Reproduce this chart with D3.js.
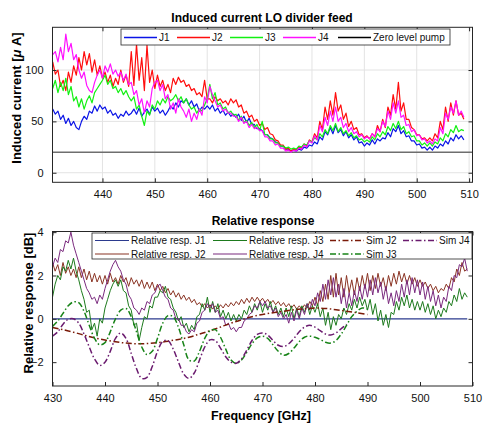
<!DOCTYPE html>
<html><head><meta charset="utf-8">
<script src="https://cdn.jsdelivr.net/npm/d3@7"></script>
<style>body{margin:0;background:#fff}svg{display:block;font-family:"Liberation Sans",Arial,Helvetica,sans-serif}</style>
</head><body><svg id="c" width="483" height="424"></svg>
<script>
// ---------- DATA ----------
// Top panel: induced current [uA], sampled every 0.5 GHz from 430.5 GHz
const topFreqStart = 430.5, freqStep = 0.5;
const currJ1 = [62,57,60,52,56,48,53,46,50,44, 42,50,55,52,60,58,65,60,66,62, 64,58,61,56,58,53,57,55,60,56,
  58,62,57,63,55,59,62,57,64,60, 63,58,61,56,60,65,62,68,64,70, 68,72,66,70,64,67,60,64,62,65,
  62,66,60,63,58,61,56,59,55,57, 54,57,51,55,49,53,47,47,43,43, 41,37,37,34,33,30,29,26,26,23,
  23,21,22,21,23,22,25,24,27,26, 30,28,35,32,40,37,44,38,46,39, 42,36,40,34,37,32,35,29,30,26,
  29,27,32,28,33,31,34,33,39,35, 43,40,46,38,41,35,36,31,31,27, 28,24,25,22,25,22,26,24,28,26,
  31,28,34,31,37,33,36,32];
const currJ2 = [108,96,100,84,90,80,98,88,104,95, 112,100,118,105,116,98,110,95,104,92, 98,88,95,84,92,86,100,88,95,84,
  118,85,125,90,112,80,124,88,100,82, 95,84,90,80,86,78,92,86,93,88, 90,84,86,80,82,76,78,74,90,72,
  72,68,74,70,72,68,70,66,72,68, 71,64,66,58,60,54,56,50,52,46, 48,42,44,38,37,32,31,27,27,23,
  24,21,23,22,25,24,28,26,32,30, 38,34,50,42,64,52,70,56,78,60, 66,52,58,45,50,42,44,37,38,34,
  36,33,38,35,46,40,52,44,64,56, 76,62,88,60,68,52,52,44,42,37, 37,33,34,31,34,31,38,34,50,42,
  64,50,68,56,70,56,58,52];
const currJ3 = [82,90,78,88,80,92,76,84,70,74, 64,72,62,70,75,68,78,82,86,90, 95,86,90,82,84,78,82,76,80,74,
  70,74,62,66,55,46,60,56,66,62, 70,66,72,68,74,70,72,76,70,74, 68,72,66,62,64,58,62,60,66,72,
  86,72,78,66,68,62,64,58,60,56, 57,51,55,49,51,46,49,44,47,41, 50,37,37,33,33,29,29,26,26,24,
  25,23,24,23,26,25,28,27,31,30, 34,32,38,35,42,38,46,41,48,40, 44,38,41,36,39,34,36,32,33,30,
  32,30,35,32,38,35,40,37,45,41, 48,43,50,42,45,38,40,35,36,31, 31,27,29,26,29,26,30,28,34,31,
  38,35,42,39,46,40,42,41];
const currJ4 = [115,118,108,122,110,135,118,126,110,115, 100,92,98,85,80,78,88,95,100,92, 104,98,106,96,100,94,98,90,96,86,
  88,76,80,66,72,58,70,64,82,88, 90,80,86,72,76,62,68,58,72,64, 60,54,62,50,58,52,62,56,74,68,
  84,76,70,64,66,60,62,58,58,55, 55,50,54,48,50,44,47,43,44,41, 41,35,35,31,31,27,28,24,24,21,
  22,20,22,21,24,23,27,25,31,29, 36,32,46,40,54,46,60,50,64,50, 54,44,48,40,44,38,40,35,37,33,
  35,33,38,35,43,40,50,45,60,52, 68,58,70,54,56,46,47,40,42,36, 37,32,33,29,31,28,33,31,44,38,
  58,52,64,58,70,56,60,54];
const zeroLevelPump = 20;
const topXTicks = [440,450,460,470,480,490,500,510];
const topYTicks = [0,50,100];

// Bottom panel: relative response [dB], sampled every 0.5 GHz from 430 GHz
const botFreqStart = 430;
const relJ2 = [2.6,2.2,2.5,2.0,2.6,2.1,2.4,2.0,2.3,1.9, 2.4,1.9,2.3,1.8,2.2,1.7,2.1,1.7,2.0,1.6,
  2.0,1.6,2.1,1.7,1.9,1.6,2.0,1.7,1.9,1.5, 1.9,1.6,1.8,1.5,1.8,1.4,1.7,1.4,1.7,1.3,
  1.6,1.3,1.5,1.2,1.4,1.1,1.3,1.0,1.2,0.9, 1.1,0.85,1.0,0.75,0.9,0.65,0.75,0.55,0.7,0.5,
  0.65,0.45,0.6,0.45,0.65,0.5,0.7,0.55,0.75,0.6, 0.8,0.65,0.9,0.7,0.95,0.75,1.0,0.8,1.0,0.8,
  0.95,0.75,0.9,0.7,0.85,0.65,0.8,0.6,0.75,0.55, 0.7,0.5,0.65,0.45,0.6,0.45,0.65,0.5,0.8,0.6,
  1.0,0.6,1.3,0.8,1.6,0.9,2.0,1.0,2.1,1.1, 1.9,1.0,2.0,1.2,1.8,1.1,1.9,1.3,2.0,1.4,
  2.1,1.3,2.0,1.4,2.1,1.5,1.9,1.3,2.0,1.5, 2.1,1.6,2.2,1.7,2.1,1.6,2.0,1.6,1.9,1.5,
  1.8,1.5,1.7,1.4,1.6,1.3,1.5,1.2,1.4,1.3, 1.6,1.4,1.9,1.7,2.3,2.0,2.6,2.2,2.3];
const relJ3 = [1.0,1.6,2.0,1.8,2.4,2.2,2.7,2.3,2.8,2.2, 1.8,1.3,0.9,0.3,0.4,-0.5,-0.2,-0.8,0.0,-0.2,
  0.5,0.9,1.3,1.6,1.8,1.5,1.8,1.3,1.2,0.6, 0.4,-0.3,-0.2,-1.0,-0.4,0.1,0.0,0.6,0.5,1.0,
  1.0,1.3,1.2,1.5,1.0,0.9,0.5,0.3,-0.1,0.1, -0.4,-0.2,-0.6,-0.3,-0.5,0.1,0.2,0.7,0.4,1.0,
  0.3,0.8,0.3,0.7,0.1,0.4,0.0,0.3,-0.1,0.2, -0.1,0.2,0.0,0.4,0.2,0.6,0.3,0.7,0.4,0.8,
  0.3,0.7,0.4,0.8,0.3,0.6,0.2,0.5,0.1,0.5, 0.1,0.6,0.0,0.5,0.1,0.6,0.3,0.7,0.2,0.6,
  0.3,0.7,0.1,0.5,-0.3,0.3,-0.5,0.1,-0.3,0.2, 0.0,0.5,0.2,0.7,0.4,0.9,0.5,1.0,0.6,0.9,
  0.4,0.9,0.2,0.7,-0.1,0.4,-0.3,0.2,-0.4,0.3, 0.2,0.8,0.4,1.0,0.6,1.1,0.5,0.9,0.4,0.8,
  0.4,0.8,0.3,0.7,0.2,0.6,0.0,0.4,0.1,0.5, 0.3,0.8,0.6,1.1,0.8,1.4,0.9,1.2,1.0];
const relJ4 = [2.4,2.8,2.6,3.2,3.1,3.6,3.5,4.0,3.4,3.0, 2.6,2.2,1.8,1.4,1.2,0.9,1.0,0.7,1.1,0.9,
  1.4,1.8,2.2,2.5,2.7,2.4,2.2,1.8,1.6,1.1, 0.9,0.5,0.4,0.2,0.5,0.4,0.8,0.7,1.1,1.2,
  1.5,1.6,1.3,1.0,0.9,0.5,0.4,0.0,0.0,-0.3, -0.3,-0.6,-0.7,-0.5,-0.6,-0.2,-0.1,0.3,0.4,0.7,
  0.5,0.7,0.3,0.4,0.0,0.1,-0.3,-0.2,-0.5,-0.4, -0.6,-0.4,-0.4,-0.1,0.0,0.2,0.3,0.6,0.5,0.8,
  0.6,0.8,0.5,0.6,0.3,0.5,0.1,0.3,0.0,0.2, -0.2,0.3,-0.1,0.4,0.0,0.5,0.2,0.7,0.4,0.9,
  0.6,1.2,0.8,1.6,0.9,1.8,1.1,1.9,1.0,1.6, 0.7,1.4,0.5,1.2,0.6,1.3,0.8,1.5,0.9,1.6,
  1.0,1.8,1.1,1.9,1.2,1.7,0.9,1.5,0.7,1.2, 0.6,1.3,0.8,1.6,1.0,1.8,1.1,1.9,1.2,1.8,
  1.1,1.7,0.9,1.5,0.8,1.3,0.6,1.1,0.5,1.0, 0.8,1.5,1.3,2.0,1.9,2.5,2.4,2.8,2.2];
// Simulations
const simJ2Freq = [430,432,434,436,438,440,442,444,446,448,450,452,454,456,458,460,462,464,466,468,470,472,474,476,478,480,482,484,486,488,490];
const simJ2 = [-0.4,-0.5,-0.62,-0.75,-0.88,-0.98,-1.06,-1.12,-1.15,-1.14,-1.1,-1.03,-0.95,-0.85,-0.7,-0.55,-0.38,-0.2,-0.05,0.1,0.2,0.28,0.35,0.42,0.46,0.5,0.48,0.42,0.35,0.28,0.2];
const simJ3Freq = [430,431,432,433,434,435,436,437,438,439,440,441,442,443,444,445,446,447,448,449,450,451,452,453,454,455,456,457,458,459,460,461,462,463,464,465,466,467,468,469,470,471,472,473,474,475,476,477,478,479,480,481,482,483,484,485,486,487,488,489,490];
const simJ3 = [-0.35,-0.1,0.25,0.6,0.78,0.75,0.35,-0.3,-0.9,-1.2,-1.1,-0.6,0.0,0.4,0.48,0.1,-0.6,-1.3,-1.65,-1.5,-0.9,-0.2,0.15,0.1,-0.4,-1.2,-1.9,-1.95,-1.5,-0.9,-0.55,-0.5,-0.85,-1.4,-1.9,-2.05,-1.9,-1.55,-1.15,-0.88,-0.8,-0.9,-1.2,-1.5,-1.68,-1.6,-1.35,-1.05,-0.85,-0.8,-0.85,-0.95,-1.08,-1.12,-1.0,-0.7,-0.3,0.1,0.35,0.5,0.45];
const simJ4Freq = [430,431,432,433,434,435,436,437,438,439,440,441,442,443,444,445,446,447,448,449,450,451,452,453,454,455,456,457,458,459,460,461,462,463,464,465,466,467,468,469,470,471,472,473,474,475,476,477,478,479,480,481,482,483,484,485,486];
const simJ4 = [-0.8,-0.6,-0.25,-0.02,0.0,-0.2,-0.7,-1.3,-1.85,-2.15,-2.0,-1.5,-0.9,-0.65,-0.9,-1.6,-2.3,-2.75,-2.7,-2.2,-1.5,-1.05,-1.0,-1.4,-2.0,-2.55,-2.75,-2.5,-1.9,-1.3,-0.97,-1.0,-1.35,-1.75,-2.0,-2.05,-1.85,-1.45,-1.0,-0.72,-0.65,-0.75,-1.0,-1.22,-1.28,-1.15,-0.9,-0.6,-0.38,-0.3,-0.38,-0.55,-0.7,-0.75,-0.65,-0.45,-0.25];
const botXTicks = [430,440,450,460,470,480,490,500,510];
const botYTicks = [-2,0,2,4];

// ---------- DRAW ----------
const svg = d3.select("#c");
const axisCol = "#262626";
const topFreq = currJ1.map((_, i) => topFreqStart + freqStep * i);
const botFreq = relJ2.map((_, i) => botFreqStart + freqStep * i);

function frame(g, x, y, xt, yt) {
  const [x0, x1] = x.range(), [y0, y1] = y.range();
  g.append("g").selectAll("line").data(xt).join("line")
    .attr("x1", d => x(d)).attr("x2", d => x(d)).attr("y1", y0).attr("y2", y1)
    .attr("stroke", "#e3e3e3").attr("stroke-width", 1);
  g.append("g").selectAll("line").data(yt).join("line")
    .attr("y1", d => y(d)).attr("y2", d => y(d)).attr("x1", x0).attr("x2", x1)
    .attr("stroke", "#e3e3e3").attr("stroke-width", 1);
}
function axes(g, x, y, xt, yt) {
  const [x0, x1] = x.range(), [y0, y1] = y.range();
  const ax = g.append("g").attr("transform", `translate(0,${y0})`)
    .call(d3.axisBottom(x).tickValues(xt).tickSize(-4).tickPadding(8).tickFormat(d3.format("d")));
  const ax2 = g.append("g").attr("transform", `translate(0,${y1})`)
    .call(d3.axisTop(x).tickValues(xt).tickSize(-4).tickFormat(""));
  const ay = g.append("g").attr("transform", `translate(${x0},0)`)
    .call(d3.axisLeft(y).tickValues(yt).tickSize(-4).tickPadding(9).tickFormat(d3.format("d")));
  const ay2 = g.append("g").attr("transform", `translate(${x1},0)`)
    .call(d3.axisRight(y).tickValues(yt).tickSize(-4).tickFormat(""));
  [ax, ax2, ay, ay2].forEach(a => {
    a.select(".domain").remove();
    a.selectAll("line").attr("stroke", axisCol);
    a.selectAll("text").attr("font-size", 11).attr("fill", "#111").attr("font-family", "Liberation Sans, Arial, sans-serif");
  });
  g.append("rect").attr("x", x0).attr("y", y1).attr("width", x1 - x0).attr("height", y0 - y1)
    .attr("fill", "none").attr("stroke", axisCol).attr("stroke-width", 1);
}

// ----- Top panel -----
const xT = d3.scaleLinear().domain([430.46, 510.65]).range([52.5, 472.5]);
const yT = d3.scaleLinear().domain([-9.3, 141.6]).range([182.3, 27.3]);
const gT = svg.append("g");
frame(gT, xT, yT, topXTicks, topYTicks);
svg.append("clipPath").attr("id", "clipT").append("rect")
  .attr("x", 52.5).attr("y", 27.3).attr("width", 420).attr("height", 155);
const lineT = d3.line().x((d, i) => xT(topFreq[i])).y(d => yT(d));
const pT = gT.append("g").attr("clip-path", "url(#clipT)");
pT.append("line").attr("x1", 52.5).attr("x2", 472.5).attr("y1", yT(zeroLevelPump)).attr("y2", yT(zeroLevelPump))
  .attr("stroke", "#6e6e6e").attr("stroke-width", 1.6);
const topSeries = [[currJ1, "#0a14e6"], [currJ2, "#ff0d0d"], [currJ3, "#12f012"], [currJ4, "#ff10ff"]];
topSeries.forEach(([s, c]) => pT.append("path").attr("d", lineT(s)).attr("fill", "none")
  .attr("stroke", c).attr("stroke-width", 1.2).attr("stroke-linejoin", "round"));
axes(gT, xT, yT, topXTicks, topYTicks);
const lgT = gT.append("g");
lgT.append("rect").attr("x", 121).attr("y", 29).attr("width", 329).attr("height", 16)
  .attr("fill", "#fff").attr("stroke", axisCol).attr("stroke-width", 0.8);
const topLeg = [["J1", "#0a14e6", 124], ["J2", "#ff0d0d", 177], ["J3", "#12f012", 230], ["J4", "#ff10ff", 283], ["Zero level pump", "#000", 338]];
topLeg.forEach(([t, c, x0]) => {
  lgT.append("line").attr("x1", x0).attr("x2", x0 + 33).attr("y1", 37.5).attr("y2", 37.5).attr("stroke", c).attr("stroke-width", 1.3);
  lgT.append("text").attr("x", x0 + 35).attr("y", 41).attr("font-size", 10).attr("fill", "#111").text(t);
});
gT.append("text").attr("x", 262).attr("y", 21.5).attr("text-anchor", "middle").attr("font-size", 12)
  .attr("font-weight", "bold").text("Induced current LO divider feed");
const ylT = gT.append("text").attr("transform", "translate(21,98) rotate(-90)").attr("text-anchor", "middle")
  .attr("font-size", 13).attr("font-weight", "bold");
ylT.append("tspan").text("Induced current [");
ylT.append("tspan").attr("font-style", "italic").text("μ");
ylT.append("tspan").text(" A]");

// ----- Bottom panel -----
const xB = d3.scaleLinear().domain([430, 510]).range([52.5, 472.5]);
const yB = d3.scaleLinear().domain([-3.1, 4.03]).range([386, 231.5]);
const gB = svg.append("g");
svg.append("clipPath").attr("id", "clipB").append("rect")
  .attr("x", 52.5).attr("y", 231.5).attr("width", 420).attr("height", 154.5);
const pB = gB.append("g").attr("clip-path", "url(#clipB)");
const lineB = d3.line().x((d, i) => xB(botFreq[i])).y(d => yB(d));
const relJ1 = relJ2.map(() => 0);
const dashDot = "6,2.5,1.5,2.5";
const botRel = [[relJ1, "#2b3a8e", 1.3], [relJ2, "#8a3424", 1.0], [relJ3, "#1d7a1d", 1.0], [relJ4, "#7a2a7e", 1.0]];
botRel.forEach(([s, c, w]) => pB.append("path").attr("d", lineB(s)).attr("fill", "none")
  .attr("stroke", c).attr("stroke-width", w).attr("stroke-linejoin", "round"));
const sims = [[simJ2Freq, simJ2, "#7a1a08"], [simJ3Freq, simJ3, "#178317"], [simJ4Freq, simJ4, "#6a1a6e"]];
sims.forEach(([f, s, c]) => {
  const l = d3.line().x((d, i) => xB(f[i])).y(d => yB(d)).curve(d3.curveCatmullRom);
  pB.append("path").attr("d", l(s)).attr("fill", "none").attr("stroke", c)
    .attr("stroke-width", 1.5).attr("stroke-dasharray", dashDot);
});
axes(gB, xB, yB, botXTicks, botYTicks);
const lgB = gB.append("g");
lgB.append("rect").attr("x", 92).attr("y", 233).attr("width", 380).attr("height", 26)
  .attr("fill", "#fff").attr("stroke", axisCol).attr("stroke-width", 0.8);
const botLeg = [
  ["Relative resp. J1", "#2b3a8e", 95, 240.5, null], ["Relative resp. J2", "#8a3424", 95, 254, null],
  ["Relative resp. J3", "#1d7a1d", 213, 240.5, null], ["Relative resp. J4", "#7a2a7e", 213, 254, null],
  ["Sim J2", "#7a1a08", 330, 240.5, dashDot], ["Sim J3", "#178317", 330, 254, dashDot],
  ["Sim J4", "#6a1a6e", 403, 240.5, dashDot]];
botLeg.forEach(([t, c, x0, yy, da]) => {
  const ln = lgB.append("line").attr("x1", x0).attr("x2", x0 + 34).attr("y1", yy).attr("y2", yy)
    .attr("stroke", c).attr("stroke-width", da ? 1.4 : 1.1);
  if (da) ln.attr("stroke-dasharray", dashDot);
  lgB.append("text").attr("x", x0 + 36).attr("y", yy + 3.6).attr("font-size", 10).attr("fill", "#111").text(t);
});
gB.append("text").attr("x", 263).attr("y", 224.5).attr("text-anchor", "middle").attr("font-size", 12)
  .attr("font-weight", "bold").text("Relative response");
gB.append("text").attr("transform", "translate(33,303) rotate(-90)").attr("text-anchor", "middle")
  .attr("font-size", 13).attr("font-weight", "bold").text("Relative response [dB]");
gB.append("text").attr("x", 261).attr("y", 419.5).attr("text-anchor", "middle").attr("font-size", 12.5)
  .attr("font-weight", "bold").text("Frequency [GHz]");
</script></body></html>
